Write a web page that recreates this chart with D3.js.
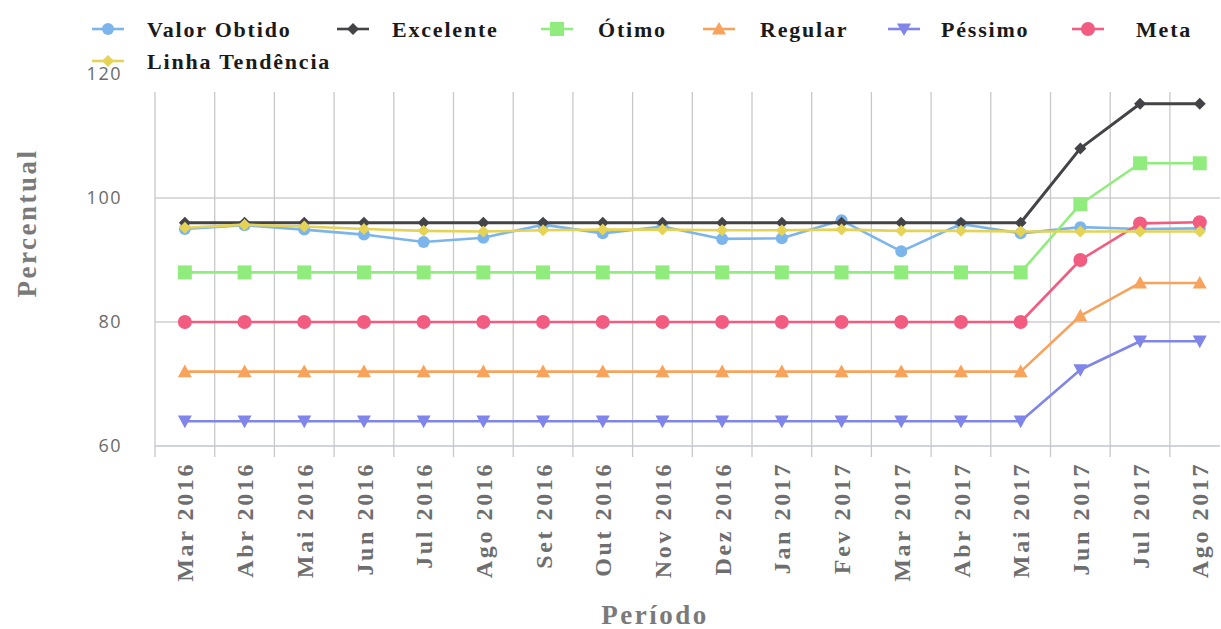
<!DOCTYPE html>
<html><head><meta charset="utf-8">
<script src="https://cdn.jsdelivr.net/npm/d3@7"></script>
<style>
html,body{margin:0;padding:0;background:#fff;}
svg{display:block;}
</style></head>
<body>
<svg id="chart" width="1221" height="629"></svg>
<script>
// ---- DATA ----
const categories = ["Mar 2016","Abr 2016","Mai 2016","Jun 2016","Jul 2016","Ago 2016","Set 2016","Out 2016","Nov 2016","Dez 2016","Jan 2017","Fev 2017","Mar 2017","Abr 2017","Mai 2017","Jun 2017","Jul 2017","Ago 2017"];
const valorObtido    = [95.0,95.6,94.9,94.1,92.9,93.6,95.7,94.3,95.4,93.4,93.5,96.4,91.4,95.8,94.3,95.3,95.0,95.1];
const excelente      = [96,96,96,96,96,96,96,96,96,96,96,96,96,96,96,108,115.2,115.2];
const otimo          = [88,88,88,88,88,88,88,88,88,88,88,88,88,88,88,99,105.6,105.6];
const regular        = [72,72,72,72,72,72,72,72,72,72,72,72,72,72,72,81,86.3,86.3];
const pessimo        = [64,64,64,64,64,64,64,64,64,64,64,64,64,64,64,72.3,76.9,76.9];
const meta           = [80,80,80,80,80,80,80,80,80,80,80,80,80,80,80,90,95.9,96.1];
const linhaTendencia = [95.2,95.7,95.4,95.0,94.7,94.6,94.8,94.9,94.9,94.8,94.8,94.9,94.7,94.7,94.6,94.6,94.6,94.6];
const yTicks = [60,80,100,120];
const seriesNames = ["Valor Obtido","Excelente","Ótimo","Regular","Péssimo","Meta","Linha Tendência"];

(function(){
// ---- STYLE / LAYOUT ----
const seriesValues = [valorObtido,excelente,otimo,regular,pessimo,meta,linhaTendencia];
const colors = ["#7cb5ec","#434348","#90ed7d","#f7a35c","#8085e9","#f15c80","#e4d354"];
const symbols = ["circle","diamond","square","triangle","triangle-down","circle","diamond"];
const symSize = [6,6,7,7,7,7,6];
const legendPos = [[108,29],[353,29],[557,29],[719,29],[904,29],[1088,29],[108,61]];
const legendTextDx = [39,39,41,41,37,48,39];

const svg = d3.select("#chart");
const pLeft = 155, pRight = 1220, pTop = 92, pBottom = 446;
const x = d3.scaleBand().domain(categories).range([pLeft, pLeft + 18*59.7]);
const y = d3.scaleLinear().domain([60,120]).range([446,74]);
const cx = c => x(c) + x.bandwidth()/2;

function symbolPath(type, r){
  if(type==="circle") return d3.symbol(d3.symbolCircle, Math.PI*r*r)();
  if(type==="square") return `M${-r},${-r}H${r}V${r}H${-r}Z`;
  if(type==="diamond") return `M0,${-r}L${r},0L0,${r}L${-r},0Z`;
  if(type==="triangle") return `M0,${-r}L${r},${r*0.8}L${-r},${r*0.8}Z`;
  if(type==="triangle-down") return `M0,${r}L${r},${-r*0.8}L${-r},${-r*0.8}Z`;
}

const grid = svg.append("g");
grid.selectAll("line.h").data(yTicks.filter(t => y(t) >= pTop)).join("line")
  .attr("x1", pLeft).attr("x2", pRight)
  .attr("y1", d => y(d)).attr("y2", d => y(d))
  .attr("stroke", d => d===60 ? "#c0c6d0" : "#cfcfcf").attr("stroke-width", 1.3);
const bounds = categories.map(c => x(c)).filter(v => v <= pRight);
grid.selectAll("line.v").data(bounds).join("line")
  .attr("x1", d => d).attr("x2", d => d)
  .attr("y1", pTop).attr("y2", pBottom + 11)
  .attr("stroke", "#c8c8c8").attr("stroke-width", 1.3);

svg.append("g").selectAll("text").data(yTicks).join("text")
  .attr("x", 122).attr("y", d => y(d)).attr("dy", "0.35em")
  .attr("text-anchor", "end")
  .attr("font-family", "'Open Sans', sans-serif").attr("font-size", 18)
  .attr("letter-spacing", 1.5)
  .attr("fill", "#6b6b6b").text(d => d);

svg.append("g").selectAll("text").data(categories).join("text")
  .attr("transform", d => `translate(${cx(d)},${pBottom + 16}) rotate(-90)`)
  .attr("dy", "0.36em").attr("text-anchor", "end")
  .attr("font-family", "'Liberation Serif', 'Times New Roman', serif")
  .attr("font-weight", "bold").attr("font-size", 24)
  .attr("letter-spacing", 2.6)
  .attr("fill", "#6e6e6e").text(d => d);

svg.append("text")
  .attr("transform", `translate(36,223) rotate(-90)`)
  .attr("text-anchor", "middle")
  .attr("font-family", "'Liberation Serif', serif").attr("font-weight", "bold")
  .attr("font-size", 27).attr("letter-spacing", 2.5)
  .attr("fill", "#7a7a7a").text("Percentual");
svg.append("text")
  .attr("x", 655).attr("y", 624)
  .attr("text-anchor", "middle")
  .attr("font-family", "'Liberation Serif', serif").attr("font-weight", "bold")
  .attr("font-size", 27).attr("letter-spacing", 2.5)
  .attr("fill", "#7a7a7a").text("Período");

const line = d3.line().x((d,i) => cx(categories[i])).y(d => y(d));
const plot = svg.append("g");
seriesValues.forEach((vals, si) => {
  const g = plot.append("g");
  g.append("path").datum(vals).attr("d", line)
    .attr("fill", "none").attr("stroke", colors[si]).attr("stroke-width", si===1 ? 3 : 2.6)
    .attr("stroke-linejoin", "round");
  g.selectAll("path.m").data(vals).join("path")
    .attr("transform", (d,i) => `translate(${cx(categories[i])},${y(d)})`)
    .attr("d", symbolPath(symbols[si], symSize[si]))
    .attr("fill", colors[si]);
});

const leg = svg.append("g");
seriesNames.forEach((name, i) => {
  const [lx, ly] = legendPos[i];
  const g = leg.append("g").attr("transform", `translate(${lx},${ly})`);
  g.append("line").attr("x1", -16).attr("x2", 16).attr("y1", 0).attr("y2", 0)
    .attr("stroke", colors[i]).attr("stroke-width", 2.6);
  g.append("path").attr("d", symbolPath(symbols[i], symSize[i])).attr("fill", colors[i]);
  g.append("text").attr("x", legendTextDx[i]).attr("y", 0).attr("dy", "0.35em")
    .attr("font-family", "'Liberation Serif', 'Times New Roman', serif")
    .attr("font-weight", "bold").attr("font-size", 22)
    .attr("letter-spacing", 1.8)
    .attr("fill", "#1a1a1a").text(name);
});
})();
</script>
</body></html>
